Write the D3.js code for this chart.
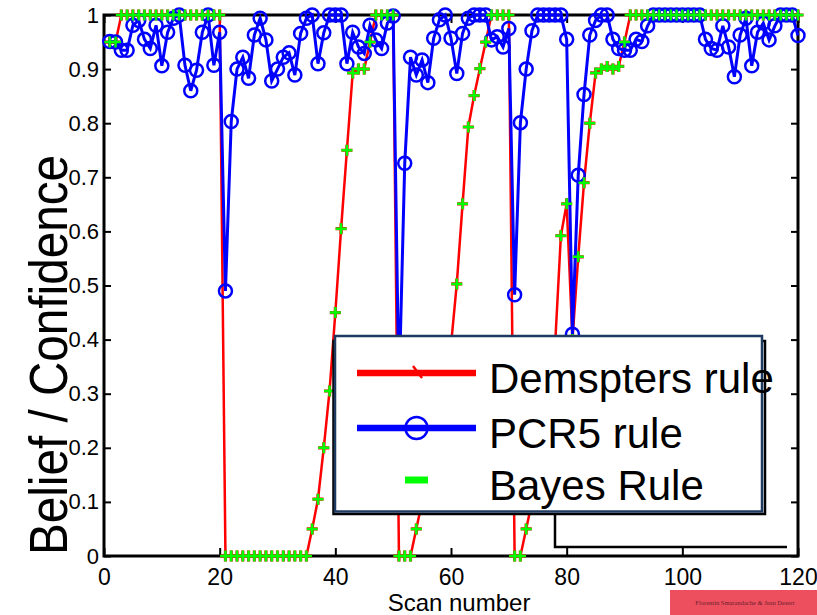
<!DOCTYPE html>
<html>
<head>
<meta charset="utf-8">
<script src="https://cdn.jsdelivr.net/npm/d3@7"></script>
<style>
  body { margin: 0; background: #fff; }
  svg { display: block; font-family: "Liberation Sans", Arial, sans-serif; }
  .tick line { stroke: #000; stroke-width: 2; }
  .tick text { fill: #000; }
</style>
</head>
<body>
<svg id="chart" width="817" height="615"></svg>
<script>
// scan index 1..120
const scans = d3.range(1, 121);

// Dempster's rule (red)
const dempster = [
  0.95, 0.95, 1, 1, 1, 1, 1, 1, 1, 1,
  1, 1, 1, 1, 1, 1, 1, 1, 1, 1,
  0, 0, 0, 0, 0, 0, 0, 0, 0, 0,
  0, 0, 0, 0, 0, 0.05, 0.105, 0.2, 0.305, 0.45,
  0.605, 0.75, 0.893, 0.9, 0.9, 0.95, 1, 1, 1, 1,
  0, 0, 0, 0.05, 0.1, 0.15, 0.2, 0.27, 0.33, 0.39,
  0.503, 0.651, 0.793, 0.851, 0.901, 0.95, 1, 1, 1, 1,
  0, 0, 0.05, 0.1, 0.18, 0.26, 0.33, 0.39, 0.592, 0.651,
  0.4, 0.553, 0.69, 0.8, 0.893, 0.9, 0.905, 0.9, 0.905, 0.95,
  1, 1, 1, 1, 1, 1, 1, 1, 1, 1,
  1, 1, 1, 1, 1, 1, 1, 1, 1, 1,
  1, 1, 1, 1, 1, 1, 1, 1, 1, 1
];

// PCR5 rule (blue)
const pcr5 = [
  0.951, 0.95, 0.935, 0.935, 0.981, 0.99, 0.955, 0.938, 0.981, 0.906,
  0.968, 0.994, 1, 0.907, 0.86, 0.898, 0.968, 1, 0.907, 0.968,
  0.49, 0.803, 0.9, 0.922, 0.883, 0.963, 0.994, 0.954, 0.878, 0.9,
  0.922, 0.93, 0.889, 0.966, 0.994, 1, 0.91, 0.967, 1, 1,
  1, 0.91, 0.968, 0.941, 0.929, 0.981, 0.954, 0.938, 0.985, 0.998,
  0.3, 0.726, 0.922, 0.889, 0.917, 0.875, 0.957, 0.991, 1, 0.957,
  0.892, 0.966, 0.994, 1, 1, 1, 0.954, 0.96, 0.941, 0.975,
  0.483, 0.801, 0.9, 0.971, 1, 1, 1, 1, 1, 0.955,
  0.41, 0.704, 0.853, 0.963, 0.99, 1, 1, 0.955, 0.938, 0.935,
  0.935, 0.955, 0.951, 0.98, 1, 1, 1, 1, 1, 1,
  1, 1, 1, 0.955, 0.938, 0.935, 0.98, 0.941, 0.886, 0.963,
  0.994, 0.906, 0.968, 0.985, 0.954, 0.98, 1, 1, 1, 0.962
];

// Bayes rule (green markers)
const bayes = [
  0.95, 0.95, 1, 1, 1, 1, 1, 1, 1, 1,
  1, 1, 1, 1, 1, 1, 1, 1, 1, 1,
  0, 0, 0, 0, 0, 0, 0, 0, 0, 0,
  0, 0, 0, 0, 0, 0.05, 0.105, 0.2, 0.305, 0.45,
  0.605, 0.75, 0.893, 0.9, 0.9, 0.95, 1, 1, 1, 1,
  0, 0, 0, 0.05, 0.1, 0.15, 0.2, 0.27, 0.33, 0.39,
  0.503, 0.651, 0.793, 0.851, 0.901, 0.95, 1, 1, 1, 1,
  0, 0, 0.05, 0.1, 0.18, 0.26, 0.33, 0.39, 0.592, 0.651,
  0.4, 0.553, 0.69, 0.8, 0.893, 0.9, 0.905, 0.9, 0.905, 0.95,
  1, 1, 1, 1, 1, 1, 1, 1, 1, 1,
  1, 1, 1, 1, 1, 1, 1, 1, 1, 1,
  1, 1, 1, 1, 1, 1, 1, 1, 1, 1
];

const xTicks = [0, 20, 40, 60, 80, 100, 120];
const yTicks = [0, 0.1, 0.2, 0.3, 0.4, 0.5, 0.6, 0.7, 0.8, 0.9, 1];
const seriesNames = ["Demspters rule", "PCR5 rule", "Bayes Rule"];

const svg = d3.select("#chart");

// plot frame in pixels
const frameLeft = 104, frameRight = 798, frameTop = 15, frameBottom = 556;

const x = d3.scaleLinear().domain([0, 120]).range([frameLeft, frameRight]);
const y = d3.scaleLinear().domain([0, 1]).range([frameBottom, frameTop]);

// axes, ticks pointing inwards on all four sides
svg.append("g")
    .attr("transform", `translate(0,${frameBottom})`)
    .call(d3.axisBottom(x).tickValues(xTicks).tickSize(-8).tickPadding(7))
    .call(g => g.select(".domain").remove())
    .selectAll("text").attr("font-size", 23).attr("dy", "0.95em");

svg.append("g")
    .attr("transform", `translate(0,${frameTop})`)
    .call(d3.axisTop(x).tickValues(xTicks).tickSize(-8).tickFormat(""))
    .call(g => g.select(".domain").remove());

svg.append("g")
    .attr("transform", `translate(${frameLeft},0)`)
    .call(d3.axisLeft(y).tickValues(yTicks).tickSize(-7).tickPadding(5).tickFormat(d => d))
    .call(g => g.select(".domain").remove())
    .selectAll("text").attr("font-size", 22);

svg.append("g")
    .attr("transform", `translate(${frameRight},0)`)
    .call(d3.axisRight(y).tickValues(yTicks).tickSize(-7).tickFormat(""))
    .call(g => g.select(".domain").remove());

svg.append("rect")
    .attr("x", frameLeft).attr("y", frameTop)
    .attr("width", frameRight - frameLeft).attr("height", frameBottom - frameTop)
    .attr("fill", "none").attr("stroke", "#000").attr("stroke-width", 3);

// axis titles (the y title is tall and a bit squeezed in the original)
svg.append("text")
    .attr("transform", "translate(67,355) rotate(-90)")
    .attr("text-anchor", "middle")
    .attr("font-size", 54)
    .attr("textLength", 400)
    .attr("lengthAdjust", "spacingAndGlyphs")
    .text("Belief / Confidence");

svg.append("text")
    .attr("x", 459).attr("y", 611)
    .attr("text-anchor", "middle")
    .attr("font-size", 24)
    .text("Scan number");

// series
const line = d3.line().x((d, i) => x(scans[i])).y(d => y(d));
const plus = "M-5.5,0H5.5M0,-5.5V5.5";

svg.append("path").datum(dempster)
    .attr("d", line)
    .attr("fill", "none").attr("stroke", "#ff0000").attr("stroke-width", 2.5);

svg.append("g").selectAll("path").data(dempster).join("path")
    .attr("transform", (d, i) => `translate(${x(scans[i])},${y(d)})`)
    .attr("d", plus)
    .attr("stroke", "#ff0000").attr("stroke-width", 3.2);

svg.append("path").datum(pcr5)
    .attr("d", line)
    .attr("fill", "none").attr("stroke", "#0000ff").attr("stroke-width", 3);

svg.append("g").selectAll("circle").data(pcr5).join("circle")
    .attr("cx", (d, i) => x(scans[i]))
    .attr("cy", d => y(d))
    .attr("r", 6.5)
    .attr("fill", "none").attr("stroke", "#0000ff").attr("stroke-width", 2.5);

svg.append("g").selectAll("path").data(bayes).join("path")
    .attr("transform", (d, i) => `translate(${x(scans[i])},${y(d)})`)
    .attr("d", plus)
    .attr("stroke", "#00ff00").attr("stroke-width", 2.5);

// stray box lines under the legend
svg.append("path")
    .attr("d", "M555,514V547H787")
    .attr("fill", "none").attr("stroke", "#000").attr("stroke-width", 2.5);

// legend: black box with a navy box on top of it
const legend = svg.append("g");
legend.append("rect")
    .attr("x", 333.5).attr("y", 341).attr("width", 431.5).attr("height", 173)
    .attr("fill", "#fff").attr("stroke", "#000").attr("stroke-width", 2.5);
legend.append("rect")
    .attr("x", 335).attr("y", 336).attr("width", 427).attr("height", 175.5)
    .attr("fill", "#fff").attr("stroke", "#1f3a60").attr("stroke-width", 2.5);

const rowY = [373, 428, 480];
const textY = [393, 448, 500];

legend.append("line")
    .attr("x1", 357).attr("x2", 476).attr("y1", rowY[0]).attr("y2", rowY[0])
    .attr("stroke", "#ff0000").attr("stroke-width", 6.5);
legend.append("path")
    .attr("d", `M413,${rowY[0] - 7}L422,${rowY[0] + 5}`)
    .attr("stroke", "#ff0000").attr("stroke-width", 2.5);

legend.append("line")
    .attr("x1", 357).attr("x2", 476).attr("y1", rowY[1]).attr("y2", rowY[1])
    .attr("stroke", "#0000ff").attr("stroke-width", 6.5);
legend.append("circle")
    .attr("cx", 416.5).attr("cy", rowY[1]).attr("r", 11)
    .attr("fill", "none").attr("stroke", "#0000ff").attr("stroke-width", 2.5);

legend.append("line")
    .attr("x1", 405).attr("x2", 428).attr("y1", rowY[2]).attr("y2", rowY[2])
    .attr("stroke", "#00ff00").attr("stroke-width", 7);

legend.selectAll("text.label").data(seriesNames).join("text")
    .attr("class", "label")
    .attr("x", 489)
    .attr("y", (d, i) => textY[i])
    .attr("font-size", 42)
    .text(d => d);

// watermark box in the corner
svg.append("rect")
    .attr("x", 670).attr("y", 590).attr("width", 147).attr("height", 25)
    .attr("fill", "#ee4f5f");
svg.append("text")
    .attr("x", 745).attr("y", 605)
    .attr("text-anchor", "middle")
    .attr("font-family", "'Liberation Serif', serif")
    .attr("font-size", 6.5)
    .attr("fill", "#6a1f2a")
    .text("Florentin Smarandache & Jean Dezert");
</script>
</body>
</html>
